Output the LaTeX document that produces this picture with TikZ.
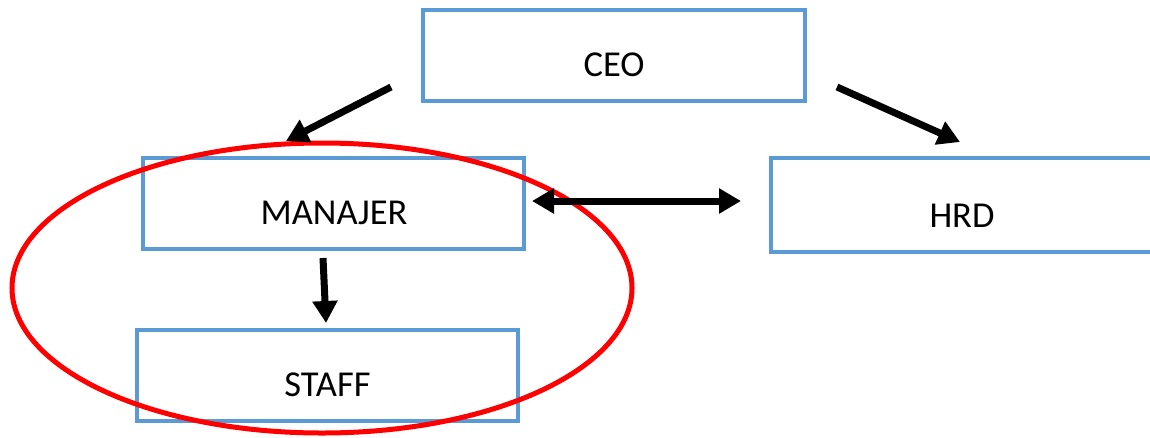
\documentclass[tikz,border=0pt]{standalone}
\usepackage{fontspec}
\setmainfont{Carlito}
\usetikzlibrary{arrows.meta,calc,shapes.geometric}
\definecolor{boxblue}{HTML}{5B9BD5}
\definecolor{ellred}{HTML}{FF0000}
\tikzset{
  orgbox/.style={draw=boxblue, line width=4pt, fill=none, minimum width=#1, minimum height=91pt, inner sep=0pt, outer sep=0pt},
  boxtext/.style={font=\fontsize{36.5}{42}\selectfont, inner sep=0pt},
  conn/.style={line width=7pt, draw=black, -{Triangle[length=22pt,width=24pt]}},
  dconn/.style={line width=7pt, draw=black, {Triangle[length=22pt,width=24pt]}-{Triangle[length=22pt,width=24pt]}}
}
\begin{document}
\begin{tikzpicture}[x=1pt,y=-1pt]
\useasboundingbox (0,0) rectangle (1150,437);
\clip (0,0) rectangle (1150,437);
\node[orgbox=382pt] (ceo) at (614,55.5) {};
\node[boxtext] (ceot) at (614,65) {CEO};
\node[orgbox=381pt] (man) at (333.5,203.5) {};
\node[boxtext] (mant) at (334,213) {MANAJER};
\node[orgbox=384pt, minimum height=94pt] (hrd) at (963,205) {};
\node[boxtext] (hrdt) at (962,216) {HRD};
\node[orgbox=381pt] (staff) at (327.5,375.5) {};
\node[boxtext] (stafft) at (327.5,385) {STAFF};
\node[draw=ellred, line width=5pt, ellipse, minimum width=620pt, minimum height=290pt, inner sep=0pt] (ell) at (322,288) {};
\coordinate (a1s) at (391,87);
\coordinate (a1e) at (286,141);
\coordinate (a2s) at (837,87);
\coordinate (a2e) at (960,142);
\coordinate (a3s) at (532,201);
\coordinate (a3e) at (741,201);
\coordinate (a4s) at (323,258);
\coordinate (a4e) at (326,323);
\draw[conn] (a1s) -- (a1e);
\draw[conn] (a2s) -- (a2e);
\draw[dconn] (a3s) -- (a3e);
\draw[conn] (a4s) -- (a4e);
\end{tikzpicture}
\end{document}
